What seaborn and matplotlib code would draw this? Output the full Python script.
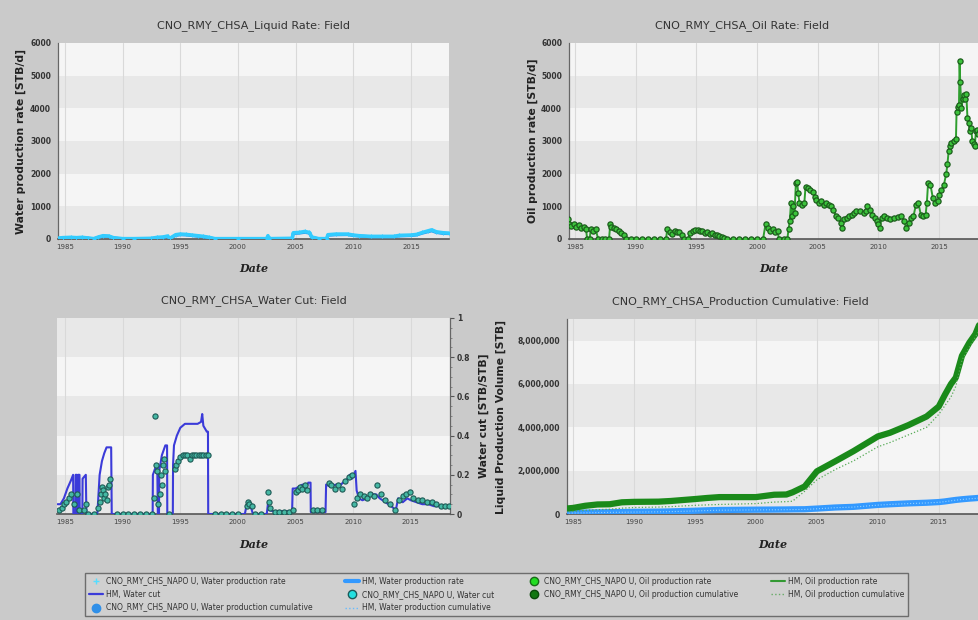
import matplotlib
matplotlib.use("Agg")
import matplotlib.pyplot as plt
from matplotlib.lines import Line2D
from matplotlib.ticker import MultipleLocator, FuncFormatter
import seaborn as sns
import numpy as np

sns.set_style("white")
plt.rcParams['font.family'] = ['DejaVu Sans']

# ---------------- data ----------------
water_rate_years = [1984.3, 1984.8, 1985.5, 1986.0, 1986.5, 1987.0, 1987.5, 1987.9, 1988.3, 1988.8,
                    1989.2, 1990.0, 1991.0, 1992.5, 1993.0, 1993.5, 1993.9, 1994.1, 1994.6, 1995.0,
                    1995.5, 1996.0, 1996.5, 1997.0, 1997.5, 1998.0, 2000.0, 2002.5, 2002.6, 2002.7,
                    2004.7, 2004.8, 2005.3, 2005.8, 2006.2, 2006.4, 2007.0, 2007.7, 2007.8, 2008.5,
                    2009.5, 2010.0, 2010.5, 2011.5, 2012.5, 2013.5, 2014.0, 2015.0, 2015.5, 2016.0,
                    2016.5, 2016.8, 2017.2, 2017.8, 2018.3]
water_rate_obs = [20, 40, 50, 40, 50, 30, 10, 60, 100, 90,
                  40, 10, 10, 20, 50, 60, 90, 20, 130, 150,
                  140, 120, 100, 80, 50, 10, 10, 10, 100, 10,
                  20, 190, 200, 230, 200, 60, 10, 10, 130, 150,
                  150, 120, 100, 80, 80, 80, 110, 120, 140, 200,
                  250, 280, 220, 190, 180]
water_rate_hm = [15, 30, 40, 35, 40, 25, 5, 50, 85, 80,
                 30, 5, 5, 15, 40, 50, 75, 15, 110, 130,
                 125, 105, 85, 70, 40, 5, 5, 5, 60, 5,
                 15, 170, 180, 205, 180, 50, 5, 5, 115, 130,
                 135, 105, 90, 70, 70, 70, 95, 105, 125, 180,
                 225, 250, 200, 170, 165]

oil_years = [1984.4, 1984.5, 1984.7, 1984.9, 1985.1, 1985.3, 1985.5, 1985.7, 1985.9, 1986.0,
             1986.2, 1986.3, 1986.5, 1986.7, 1986.9, 1987.2, 1987.5, 1987.8, 1987.9, 1988.0,
             1988.2, 1988.4, 1988.6, 1988.8, 1989.0, 1989.2, 1989.6, 1990.0, 1990.5, 1991.0,
             1991.5, 1992.0, 1992.5, 1992.6, 1992.8, 1993.0, 1993.2, 1993.4, 1993.6, 1993.8,
             1994.0, 1994.3, 1994.5, 1994.7, 1994.9, 1995.1, 1995.3, 1995.5, 1995.7, 1995.9,
             1996.1, 1996.3, 1996.5, 1996.7, 1996.9, 1997.1, 1997.3, 1997.5, 1998.0, 1998.5,
             1999.0, 1999.5, 2000.0, 2000.5, 2000.7, 2000.9, 2001.1, 2001.3, 2001.5, 2001.7,
             2001.8, 2002.2, 2002.5, 2002.6, 2002.7, 2002.8, 2002.9, 2003.0, 2003.1, 2003.2,
             2003.3, 2003.4, 2003.5, 2003.7, 2003.9, 2004.0, 2004.2, 2004.4, 2004.6, 2004.8,
             2004.9, 2005.1, 2005.3, 2005.5, 2005.7, 2005.9, 2006.1, 2006.3, 2006.5, 2006.7,
             2006.9, 2007.0, 2007.2, 2007.4, 2007.6, 2007.8, 2008.0, 2008.2, 2008.5, 2008.8,
             2009.0, 2009.1, 2009.3, 2009.5, 2009.7, 2009.9, 2010.0, 2010.1, 2010.3, 2010.5,
             2010.7, 2011.0, 2011.3, 2011.6, 2011.9, 2012.1, 2012.3, 2012.5, 2012.7, 2012.9,
             2013.1, 2013.3, 2013.5, 2013.7, 2013.9, 2014.0, 2014.1, 2014.3, 2014.5, 2014.7,
             2014.9, 2015.0, 2015.2, 2015.4, 2015.6, 2015.7, 2015.8, 2015.9, 2016.0, 2016.2,
             2016.4, 2016.45, 2016.55, 2016.65, 2016.7, 2016.75, 2016.85, 2016.95, 2017.05, 2017.15,
             2017.25, 2017.35, 2017.45, 2017.55, 2017.65, 2017.75, 2017.85, 2017.95, 2018.05, 2018.15,
             2018.25, 2018.35]
oil_rate = [600, 450, 400, 450, 380, 420, 350, 380, 300, 0,
            0, 300, 250, 300, 0, 0, 0, 0, 450, 380,
            350, 300, 250, 180, 120, 0, 0, 0, 0, 0,
            0, 0, 0, 300, 200, 150, 250, 200, 200, 120,
            0, 0, 180, 250, 280, 270, 250, 230, 180, 200,
            150, 180, 130, 120, 80, 60, 30, 0, 0, 0,
            0, 0, 0, 0, 450, 350, 250, 300, 200, 250,
            0, 0, 0, 300, 550, 1100, 700, 1000, 800, 1700,
            1750, 1400, 1100, 1050, 1100, 1600, 1550, 1500, 1450, 1300,
            1200, 1100, 1150, 1050, 1100, 1050, 1000, 900, 700, 650,
            500, 350, 600, 650, 700, 750, 800, 850, 850, 800,
            850, 1000, 900, 750, 650, 550, 450, 350, 650, 700,
            650, 620, 650, 680, 700, 550, 350, 500, 650, 700,
            1050, 1100, 750, 700, 750, 1100, 1700, 1650, 1250, 1100,
            1150, 1350, 1500, 1650, 2000, 2300, 2700, 2850, 2950, 3000,
            3050, 3900, 4050, 4100, 5450, 4800, 4000, 4300, 4400, 4300,
            4450, 3700, 3550, 3300, 3400, 3000, 2900, 2850, 3300, 3350,
            3200, 3300]

wcut_hm_years = [1984.35, 1984.6, 1984.9, 1985.2, 1985.5, 1985.7, 1985.72, 1985.9, 1985.92, 1986.0,
                 1986.02, 1986.1, 1986.12, 1986.25, 1986.27, 1986.5, 1986.52, 1986.8, 1986.85, 1987.8,
                 1987.85, 1988.0, 1988.2, 1988.4, 1988.6, 1989.0, 1989.05, 1992.6, 1992.62, 1992.8,
                 1993.0, 1993.05, 1993.15, 1993.17, 1993.4, 1993.7, 1993.85, 1993.87, 1994.35, 1994.37,
                 1994.45, 1994.7, 1995.0, 1995.4, 1996.0, 1996.5, 1996.8, 1996.9, 1997.0, 1997.3,
                 1997.4, 1997.42, 2000.6, 2000.7, 2000.9, 2001.1, 2001.3, 2002.5, 2002.6, 2002.7,
                 2003.0, 2004.0, 2004.7, 2004.75, 2005.0, 2005.3, 2005.6, 2005.9, 2006.1, 2006.3,
                 2006.32, 2007.0, 2007.6, 2007.65, 2008.0, 2008.5, 2008.8, 2009.1, 2009.4, 2009.7,
                 2009.9, 2010.2, 2010.3, 2010.5, 2010.8, 2011.2, 2011.7, 2012.0, 2012.3, 2012.8,
                 2013.3, 2013.7, 2013.9, 2014.3, 2014.7, 2015.0, 2015.5, 2016.0, 2016.5, 2017.0,
                 2017.5, 2018.3]
wcut_hm = [0.05, 0.05, 0.08, 0.13, 0.17, 0.20, 0.0, 0.0, 0.20, 0.20,
           0.0, 0.0, 0.20, 0.20, 0.0, 0.0, 0.18, 0.20, 0.0, 0.0,
           0.05, 0.20, 0.27, 0.31, 0.34, 0.34, 0.0, 0.0, 0.20, 0.23,
           0.25, 0.0, 0.0, 0.22, 0.30, 0.35, 0.35, 0.0, 0.0, 0.25,
           0.35, 0.40, 0.44, 0.46, 0.46, 0.46, 0.47, 0.51, 0.45, 0.42,
           0.42, 0.0, 0.0, 0.03, 0.06, 0.04, 0.0, 0.0, 0.05, 0.02,
           0.015, 0.015, 0.015, 0.13, 0.13, 0.14, 0.15, 0.13, 0.16, 0.16,
           0.01, 0.01, 0.01, 0.15, 0.14, 0.15, 0.14, 0.16, 0.17, 0.20,
           0.18, 0.22, 0.12, 0.08, 0.07, 0.08, 0.10, 0.10, 0.08, 0.06,
           0.04, 0.02, 0.08, 0.06, 0.08, 0.07, 0.06, 0.05, 0.05, 0.04,
           0.04, 0.04]

wcut_obs_years = [1984.5, 1984.7, 1984.9, 1985.1, 1985.3, 1985.5, 1985.8, 1986.0, 1986.2, 1986.6,
                  1986.8, 1987.0, 1987.5, 1987.9, 1988.0, 1988.1, 1988.2, 1988.3, 1988.4, 1988.5,
                  1988.6, 1988.7, 1988.8, 1988.9, 1989.5, 1990.0, 1990.5, 1991.0, 1991.5, 1992.0,
                  1992.5, 1992.7, 1992.8, 1992.9, 1993.0, 1993.1, 1993.2, 1993.3, 1993.4, 1993.5,
                  1993.6, 1993.7, 1994.0, 1994.5, 1994.6, 1994.8, 1995.0, 1995.2, 1995.4, 1995.6,
                  1995.8, 1996.0, 1996.2, 1996.4, 1996.6, 1996.8, 1997.0, 1997.2, 1997.4, 1998.0,
                  1998.5, 1999.0, 1999.5, 2000.0, 2000.8, 2000.9, 2001.0, 2001.2, 2001.5, 2002.0,
                  2002.6, 2002.7, 2002.8, 2003.2, 2003.6, 2004.0, 2004.4, 2004.8, 2005.0, 2005.2,
                  2005.4, 2005.6, 2005.8, 2006.0, 2006.5, 2006.9, 2007.3, 2007.9, 2008.1, 2008.4,
                  2008.7, 2009.0, 2009.3, 2009.6, 2009.9, 2010.1, 2010.3, 2010.6, 2010.9, 2011.2,
                  2011.5, 2011.8, 2012.1, 2012.4, 2012.8, 2013.2, 2013.6, 2014.0, 2014.3, 2014.6,
                  2014.9, 2015.2, 2015.6, 2016.0, 2016.4, 2016.8, 2017.2, 2017.6, 2018.0, 2018.3]
wcut_obs = [0.02, 0.03, 0.05, 0.06, 0.08, 0.10, 0.05, 0.10, 0.02, 0.02,
            0.05, 0.0, 0.0, 0.03, 0.06, 0.10, 0.14, 0.12, 0.08, 0.10,
            0.07, 0.14, 0.15, 0.18, 0.0, 0.0, 0.0, 0.0, 0.0, 0.0,
            0.0, 0.08, 0.50, 0.25, 0.22, 0.05, 0.10, 0.20, 0.15, 0.25,
            0.28, 0.22, 0.0, 0.23, 0.25, 0.27, 0.29, 0.30, 0.30, 0.30,
            0.28, 0.30, 0.30, 0.30, 0.30, 0.30, 0.30, 0.30, 0.30, 0.0,
            0.0, 0.0, 0.0, 0.0, 0.04, 0.06, 0.05, 0.04, 0.0, 0.0,
            0.11, 0.06, 0.03, 0.01, 0.01, 0.01, 0.01, 0.02, 0.11, 0.12,
            0.14, 0.13, 0.15, 0.12, 0.02, 0.02, 0.02, 0.16, 0.15, 0.13,
            0.15, 0.13, 0.17, 0.19, 0.20, 0.05, 0.08, 0.10, 0.09, 0.08,
            0.10, 0.09, 0.15, 0.10, 0.07, 0.05, 0.02, 0.07, 0.09, 0.10,
            0.11, 0.08, 0.07, 0.07, 0.06, 0.06, 0.05, 0.04, 0.04, 0.04]

cum_years = [1984.4, 1985.0, 1986.0, 1987.0, 1988.0, 1989.0, 1990.0, 1992.0, 1993.0, 1995.0,
             1996.0, 1997.0, 2000.0, 2001.5, 2002.5, 2003.0, 2004.0, 2005.0, 2006.5, 2008.0,
             2010.0, 2011.0, 2012.5, 2014.0, 2015.0, 2015.5, 2016.0, 2016.4, 2016.9, 2017.5,
             2018.0, 2018.4]
oil_cum_obs = [250000, 280000, 380000, 440000, 450000, 540000, 560000, 570000, 600000, 690000,
               740000, 780000, 780000, 890000, 900000, 1000000, 1270000, 1970000, 2430000, 2900000,
               3580000, 3750000, 4100000, 4500000, 4960000, 5500000, 6000000, 6300000, 7300000, 7900000,
               8300000, 8850000]
oil_cum_hm = [90000, 120000, 170000, 200000, 220000, 270000, 300000, 320000, 340000, 400000,
              420000, 440000, 480000, 550000, 570000, 590000, 1050000, 1580000, 2050000, 2450000,
              3100000, 3300000, 3650000, 4000000, 4600000, 5000000, 5400000, 5900000, 7100000, 7700000,
              8150000, 8550000]
water_cum_obs = [50000, 55000, 65000, 75000, 85000, 90000, 100000, 110000, 120000, 150000,
                 170000, 185000, 200000, 205000, 210000, 215000, 220000, 250000, 300000, 330000,
                 420000, 450000, 490000, 520000, 550000, 580000, 620000, 650000, 680000, 710000,
                 730000, 750000]
water_cum_hm = [40000, 45000, 55000, 65000, 75000, 80000, 90000, 100000, 110000, 140000,
                160000, 175000, 190000, 195000, 200000, 205000, 210000, 240000, 290000, 320000,
                410000, 440000, 480000, 510000, 540000, 570000, 610000, 640000, 670000, 700000,
                720000, 740000]

titles = ["CNO_RMY_CHSA_Liquid Rate: Field", "CNO_RMY_CHSA_Oil Rate: Field",
          "CNO_RMY_CHSA_Water Cut: Field", "CNO_RMY_CHSA_Production Cumulative: Field"]
ylabels = ["Water production rate [STB/d]", "Oil production rate [STB/d]",
           "Water cut [STB/STB]", "Liquid Production Volume [STB]"]
year_ticks = [1985, 1990, 1995, 2000, 2005, 2010, 2015]
legend_labels = ["CNO_RMY_CHS_NAPO U, Water production rate", "HM, Water cut",
                 "CNO_RMY_CHS_NAPO U, Water production cumulative", "HM, Water production rate",
                 "CNO_RMY_CHS_NAPO U, Water cut", "HM, Water production cumulative",
                 "CNO_RMY_CHS_NAPO U, Oil production rate", "CNO_RMY_CHS_NAPO U, Oil production cumulative",
                 "HM, Oil production rate", "HM, Oil production cumulative"]

# ---------------- figure ----------------
W, H = 979, 620
BG = '#cacaca'
LIGHT = '#f5f5f5'
DARK = '#e8e8e8'
fig = plt.figure(figsize=(W / 100, H / 100), dpi=100, facecolor=BG)


def px_axes(l, t, r, b):
    return fig.add_axes([l / W, 1 - b / H, (r - l) / W, (b - t) / H])


def style(ax, ymax, band, xlim, right=False):
    ax.set_facecolor(LIGHT)
    ax.set_xlim(*xlim)
    ax.set_ylim(0, ymax)
    y0 = 0
    k = 0
    while y0 < ymax:
        if k % 2 == 0:
            ax.axhspan(y0, min(y0 + band, ymax), color=DARK, zorder=0, lw=0)
        y0 += band
        k += 1
    for yr in year_ticks:
        ax.axvline(yr, color='#d9d9d9', lw=0.8, zorder=0.5)
    for s in ['top', 'right', 'left', 'bottom']:
        ax.spines[s].set_visible(False)
    ax.spines['bottom'].set_visible(True)
    ax.spines['bottom'].set_color('#555555')
    ax.spines['bottom'].set_linewidth(1.2)
    side = 'right' if right else 'left'
    ax.spines[side].set_visible(True)
    ax.spines[side].set_color('#666666')
    ax.spines[side].set_linewidth(0.9)
    if right:
        ax.yaxis.tick_right()
        ax.yaxis.set_label_position('right')
    ax.set_xticks(year_ticks)
    ax.set_xticklabels([str(y) for y in year_ticks])
    ax.xaxis.set_minor_locator(MultipleLocator(1))
    ax.tick_params(axis='x', which='major', labelsize=5, labelcolor='#444444', color='#555555',
                   length=3, width=0.8, pad=2, direction='inout')
    ax.tick_params(axis='x', which='minor', color='#555555', length=3, width=0.7, direction='inout')
    ax.tick_params(axis='y', which='major', labelsize=5.5, labelcolor='#333333', color='#555555',
                   length=3, width=0.8, pad=2)
    ax.tick_params(axis='y', which='minor', color='#777777', length=1.5, width=0.6)
    ax.set_xlabel('Date', family='DejaVu Serif', fontweight='bold', style='italic',
                  fontsize=8, color='#222222')
    ax.xaxis.set_label_coords(0.5, -0.125)


# ---- top-left: liquid (water) rate
ax1 = px_axes(58, 43, 449, 239)
sns.lineplot(x=water_rate_years, y=water_rate_hm, ax=ax1, estimator=None, sort=False,
             color='#2f8fe8', lw=2.2, legend=False, zorder=3)
sns.lineplot(x=water_rate_years, y=water_rate_obs, ax=ax1, estimator=None, sort=False,
             color='#33ccff', lw=2.6, marker='+', markersize=3, markeredgecolor='#33ccff',
             legend=False, zorder=4)
style(ax1, 6000, 1000, (1984.4, 2018.3))
ax1.yaxis.set_major_locator(MultipleLocator(1000))
ax1.yaxis.set_minor_locator(MultipleLocator(200))
ax1.set_ylabel(ylabels[0], fontsize=7.8, fontweight='bold', color='#222222')
ax1.yaxis.set_label_coords(-0.082, 0.5)
ax1.set_title(titles[0], fontsize=8, color='#333333', pad=11)
for lab in ax1.get_yticklabels():
    lab.set_fontweight('bold')

# ---- top-right: oil rate
ax2 = px_axes(569, 43, 979, 239)
sns.lineplot(x=oil_years, y=oil_rate, ax=ax2, estimator=None, sort=False,
             color='#2e9e2e', lw=1.4, legend=False, zorder=3)
sns.scatterplot(x=oil_years, y=oil_rate, ax=ax2, color='#3cc43c', edgecolor='#1c5e1c',
                linewidth=0.9, s=14, legend=False, zorder=4)
style(ax2, 6000, 1000, (1984.5, 2018.3))
ax2.yaxis.set_major_locator(MultipleLocator(1000))
ax2.yaxis.set_minor_locator(MultipleLocator(200))
ax2.set_ylabel(ylabels[1], fontsize=7.8, fontweight='bold', color='#222222')
ax2.yaxis.set_label_coords(-0.076, 0.5)
ax2.set_title(titles[1], fontsize=8, color='#333333', pad=11, x=0.422)
for lab in ax2.get_yticklabels():
    lab.set_fontweight('bold')

# ---- bottom-left: water cut
ax3 = px_axes(57, 318, 450, 514)
sns.lineplot(x=wcut_hm_years, y=wcut_hm, ax=ax3, estimator=None, sort=False,
             color='#3b3bd9', lw=1.5, legend=False, zorder=3)
sns.scatterplot(x=wcut_obs_years, y=wcut_obs, ax=ax3, color='#45b8a4', edgecolor='#1d5a55',
                linewidth=0.8, s=14, legend=False, zorder=4)
style(ax3, 1.0, 0.2, (1984.3, 2018.4), right=True)
ax3.yaxis.set_major_locator(MultipleLocator(0.2))
ax3.yaxis.set_minor_locator(MultipleLocator(0.05))
ax3.yaxis.set_major_formatter(FuncFormatter(lambda v, p: '0' if v == 0 else ('1' if abs(v - 1) < 1e-9 else f'{v:.1f}')))
ax3.set_ylabel(ylabels[2], fontsize=7.8, fontweight='bold', color='#222222')
ax3.yaxis.set_label_coords(1.074, 0.5)
ax3.set_title(titles[2], fontsize=8, color='#333333', pad=11)
ax3.xaxis.set_label_coords(0.5, -0.13)
for lab in ax3.get_yticklabels():
    lab.set_fontweight('bold')

# ---- bottom-right: cumulative
ax4 = px_axes(567, 319, 979, 514)
sns.lineplot(x=cum_years, y=water_cum_obs, ax=ax4, estimator=None, sort=False,
             color='#3399ff', lw=4.5, legend=False, zorder=3)
sns.lineplot(x=cum_years, y=water_cum_hm, ax=ax4, estimator=None, sort=False,
             color='#8fd0ff', lw=0.8, ls=':', legend=False, zorder=3.5)
sns.lineplot(x=cum_years, y=oil_cum_obs, ax=ax4, estimator=None, sort=False,
             color='#1a8a1a', lw=4.5, legend=False, zorder=4)
sns.lineplot(x=cum_years, y=oil_cum_hm, ax=ax4, estimator=None, sort=False,
             color='#55aa55', lw=0.9, ls=':', legend=False, zorder=4.5)
style(ax4, 9000000, 1000000, (1984.5, 2018.3))
for coll in list(ax4.patches):
    coll.remove()
for y0 in [0, 4000000, 8000000]:
    ax4.axhspan(y0, min(y0 + 2000000, 9000000), color=DARK, zorder=0, lw=0)
ax4.yaxis.set_major_locator(MultipleLocator(2000000))
ax4.yaxis.set_minor_locator(MultipleLocator(500000))
ax4.yaxis.set_major_formatter(FuncFormatter(lambda v, p: f'{v:,.0f}'))
ax4.set_ylabel(ylabels[3], fontsize=7.8, fontweight='bold', color='#222222')
ax4.yaxis.set_label_coords(-0.148, 0.5)
ax4.set_title(titles[3], fontsize=8, color='#333333', pad=11, x=0.42)
ax4.xaxis.set_label_coords(0.5, -0.13)
for lab in ax4.get_yticklabels():
    lab.set_fontweight('bold')

# ---- legend
handles = [
    Line2D([], [], ls='none', marker='+', color='#55ddff', ms=5, mew=1),
    Line2D([], [], color='#3b3bd9', lw=1.6),
    Line2D([], [], ls='none', marker='o', mfc='#2f8fe8', mec='#2f8fe8', ms=6),
    Line2D([], [], color='#3399ff', lw=3),
    Line2D([], [], ls='none', marker='o', mfc='#22e0e0', mec='#1a5a5a', ms=6),
    Line2D([], [], color='#66bbff', lw=1, ls=':'),
    Line2D([], [], ls='none', marker='o', mfc='#22dd22', mec='#1a6a1a', ms=6),
    Line2D([], [], ls='none', marker='o', mfc='#117711', mec='#0a4a0a', ms=6),
    Line2D([], [], color='#339933', lw=1.5),
    Line2D([], [], color='#66aa66', lw=1, ls=':'),
]
leg = fig.legend(handles, legend_labels, loc='lower left',
                 bbox_to_anchor=(85 / W, 1 - 616 / H, (908 - 85) / W, (616 - 562) / H),
                 mode='expand', ncol=4, fontsize=5.5, frameon=True, fancybox=False,
                 facecolor='#d2d2d2', edgecolor='#555555', handlelength=1.8,
                 handletextpad=0.4, borderpad=0.5, labelspacing=0.55, borderaxespad=0)
leg.get_frame().set_linewidth(1.0)
for t in leg.get_texts():
    t.set_color('#333333')

fig.savefig('out.png', dpi=100, facecolor=BG)
